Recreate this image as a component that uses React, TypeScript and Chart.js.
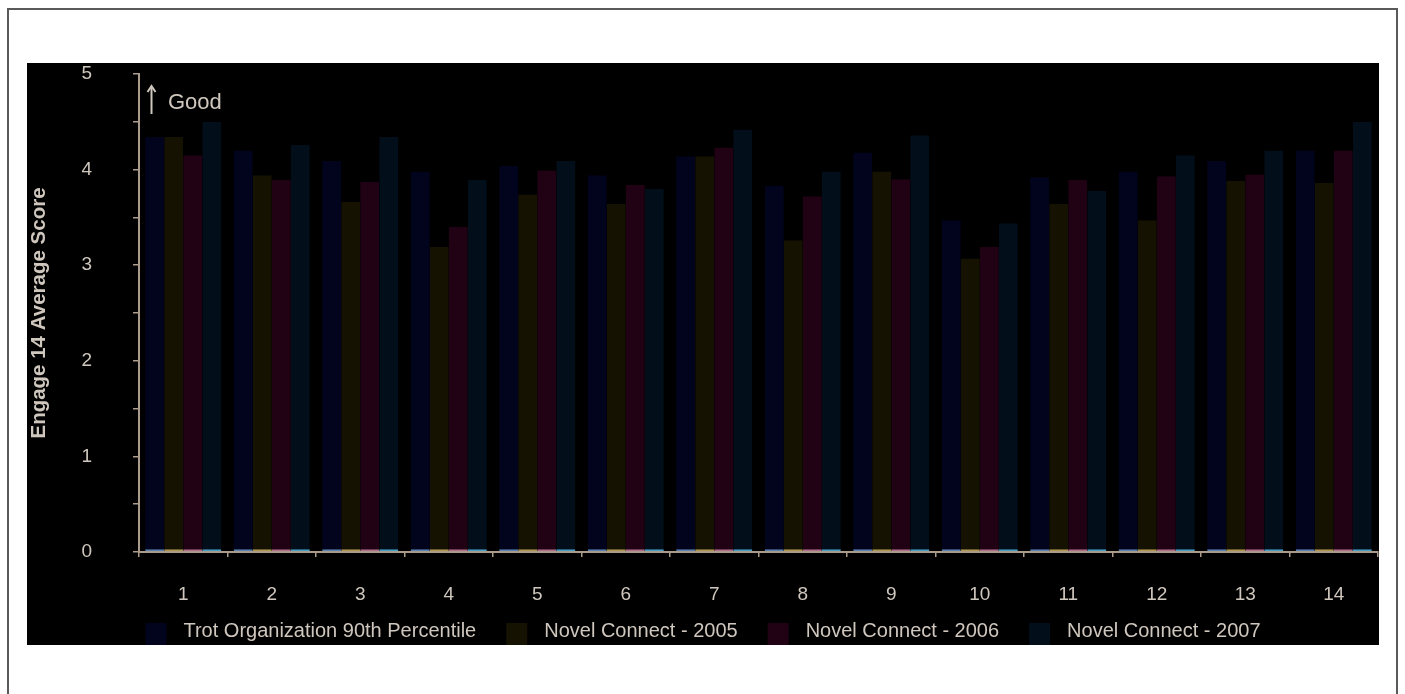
import React, { useEffect, useRef } from "react";
import { Chart, registerables } from "chart.js";

Chart.register(...registerables);

const categories = ["1", "2", "3", "4", "5", "6", "7", "8", "9", "10", "11", "12", "13", "14"];
const seriesLabels = [
  "Trot Organization 90th Percentile",
  "Novel Connect - 2005",
  "Novel Connect - 2006",
  "Novel Connect - 2007",
];
const trot90th = [4.34, 4.2, 4.09, 3.98, 4.04, 3.94, 4.14, 3.83, 4.18, 3.47, 3.92, 3.98, 4.09, 4.2];
const novel2005 = [4.34, 3.94, 3.66, 3.19, 3.74, 3.64, 4.14, 3.26, 3.98, 3.07, 3.64, 3.47, 3.88, 3.86];
const novel2006 = [4.15, 3.89, 3.87, 3.4, 3.99, 3.84, 4.23, 3.72, 3.9, 3.19, 3.89, 3.93, 3.95, 4.2];
const novel2007 = [4.5, 4.26, 4.34, 3.89, 4.09, 3.8, 4.42, 3.98, 4.36, 3.44, 3.78, 4.15, 4.2, 4.5];
const yMin = 0;
const yMax = 5;
const yStep = 0.5;
const yAxisTitle = "Engage 14 Average Score";
const annotationText = "Good";

const fillColors = ["rgb(2,4,30)", "rgb(21,18,2)", "rgb(32,2,20)", "rgb(2,14,26)"];
const baseColors = ["rgb(90,130,180)", "rgb(176,152,80)", "rgb(176,110,140)", "rgb(70,160,200)"];

const FONT = "'Liberation Sans', Arial, sans-serif";
const TEXT = "#cfc7be";
const AXIS = "#ab9b8a";

const legendPlugin = {
  id: "customLegend",
  afterDraw(chart: any) {
    const ctx = chart.ctx;
    const area = chart.chartArea;
    ctx.save();
    ctx.font = `20px ${FONT}`;
    const box = 21;
    const gap = 17;
    const spacing = 30;
    const widths = seriesLabels.map((t) => ctx.measureText(t).width);
    const total = widths.reduce((a, w) => a + box + gap + w, 0) + spacing * (seriesLabels.length - 1);
    let x = (chart.width - total) / 2;
    const boxTop = area.bottom + 71;
    const yMid = area.bottom + 79;
    ctx.textBaseline = "middle";
    ctx.textAlign = "left";
    seriesLabels.forEach((label, i) => {
      ctx.fillStyle = fillColors[i];
      ctx.fillRect(x, boxTop, box, 30);
      ctx.fillStyle = TEXT;
      ctx.fillText(label, x + box + gap, yMid);
      x += box + gap + widths[i] + spacing;
    });
    ctx.restore();
  },
};

const annotationPlugin = {
  id: "goodAnnotation",
  afterDraw(chart: any) {
    const ctx = chart.ctx;
    const area = chart.chartArea;
    ctx.save();
    const ax = area.left + 12.5;
    const top = area.top + 12;
    const bottom = area.top + 40;
    ctx.strokeStyle = TEXT;
    ctx.lineWidth = 2;
    ctx.beginPath();
    ctx.moveTo(ax, top + 1);
    ctx.lineTo(ax, bottom);
    ctx.stroke();
    ctx.beginPath();
    ctx.moveTo(ax - 4, top + 6);
    ctx.lineTo(ax, top);
    ctx.lineTo(ax + 4, top + 6);
    ctx.stroke();
    ctx.fillStyle = TEXT;
    ctx.textBaseline = "middle";
    ctx.textAlign = "left";
    ctx.font = `22px ${FONT}`;
    ctx.fillText(annotationText, area.left + 29, area.top + 29);
    ctx.restore();
  },
};

export default function App() {
  const canvasRef = useRef<HTMLCanvasElement | null>(null);

  useEffect(() => {
    document.body.style.overflow = "hidden";
    const canvas = canvasRef.current;
    if (!canvas) return;
    const seriesValues = [trot90th, novel2005, novel2006, novel2007];
    const chart = new Chart(canvas, {
      type: "bar",
      data: {
        labels: categories,
        datasets: seriesValues.map((values, i) => ({
          label: seriesLabels[i],
          data: values,
          backgroundColor: fillColors[i],
          borderColor: baseColors[i],
          borderWidth: { top: 0, left: 0, right: 0, bottom: 2 },
          borderSkipped: false,
          categoryPercentage: 0.86,
          barPercentage: 1.0,
        })),
      },
      options: {
        animation: false,
        responsive: true,
        maintainAspectRatio: false,
        layout: { padding: { top: 11, left: 0, right: 1, bottom: 0 } },
        plugins: {
          legend: { display: false },
          tooltip: { enabled: false },
          title: { display: false },
        },
        scales: {
          x: {
            grid: {
              display: true,
              drawOnChartArea: false,
              drawTicks: true,
              tickLength: 5,
              color: AXIS,
              lineWidth: 1.5,
              offset: true,
            },
            border: { display: true, color: AXIS, width: 2 },
            ticks: {
              color: TEXT,
              font: { family: FONT, size: 19 },
              padding: 26,
              maxRotation: 0,
              autoSkip: false,
            },
            afterFit(scale: any) {
              scale.height = 93;
            },
          },
          y: {
            min: yMin,
            max: yMax,
            grid: {
              display: true,
              drawOnChartArea: false,
              drawTicks: true,
              tickLength: 6,
              color: AXIS,
              lineWidth: 1.5,
            },
            border: { display: true, color: AXIS, width: 2 },
            ticks: {
              stepSize: yStep,
              autoSkip: false,
              color: TEXT,
              font: { family: FONT, size: 19 },
              padding: 41,
              callback: (v: any) => (Number(v) % 1 === 0 ? String(v) : ""),
            },
            title: {
              display: true,
              text: yAxisTitle,
              color: TEXT,
              font: { family: FONT, size: 20.5, weight: "bold" },
              padding: { top: 0, bottom: 0 },
            },
            afterFit(scale: any) {
              scale.width = 112;
              scale.paddingTop = 11;
              scale.paddingBottom = 11;
            },
          },
        },
      },
      plugins: [legendPlugin, annotationPlugin],
    });
    return () => chart.destroy();
  }, []);

  return (
    <div>
      <div
        style={{
          position: "absolute",
          left: 7,
          top: 8,
          width: 1387,
          height: 684,
          borderTop: "2px solid #5a5a5a",
          borderLeft: "2px solid #5a5a5a",
          borderRight: "2px solid #5a5a5a",
          boxSizing: "content-box",
        }}
      />
      <div
        style={{
          position: "absolute",
          left: 27,
          top: 63,
          width: 1352,
          height: 582,
          background: "#000",
        }}
      >
        <canvas ref={canvasRef} />
      </div>
    </div>
  );
}
